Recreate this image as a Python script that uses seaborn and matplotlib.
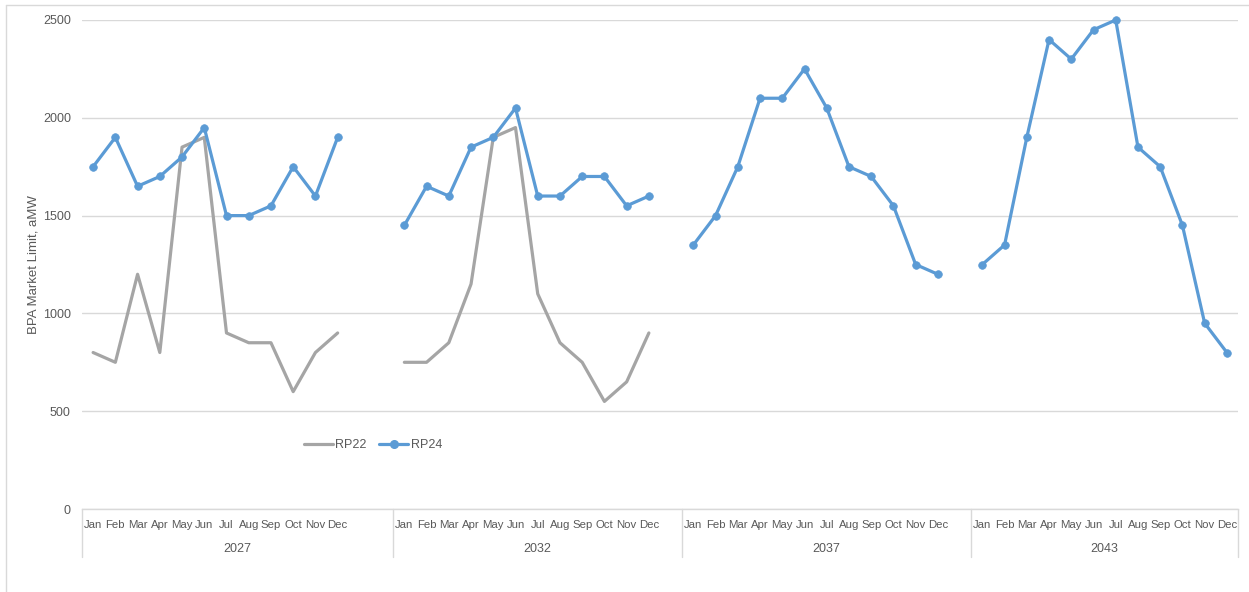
import numpy as np
import pandas as pd
import matplotlib
matplotlib.use("Agg")
import matplotlib.pyplot as plt
import matplotlib.transforms as mtransforms
from matplotlib.lines import Line2D
import seaborn as sns

# ---------------- data ----------------
months = ["Jan", "Feb", "Mar", "Apr", "May", "Jun",
          "Jul", "Aug", "Sep", "Oct", "Nov", "Dec"]
years = ["2027", "2032", "2037", "2043"]

rp22_2027 = [800, 750, 1200, 800, 1850, 1900, 900, 850, 850, 600, 800, 900]
rp22_2032 = [750, 750, 850, 1150, 1900, 1950, 1100, 850, 750, 550, 650, 900]

rp24_2027 = [1750, 1900, 1650, 1700, 1800, 1950, 1500, 1500, 1550, 1750, 1600, 1900]
rp24_2032 = [1450, 1650, 1600, 1850, 1900, 2050, 1600, 1600, 1700, 1700, 1550, 1600]
rp24_2037 = [1350, 1500, 1750, 2100, 2100, 2250, 2050, 1750, 1700, 1550, 1250, 1200]
rp24_2043 = [1250, 1350, 1900, 2400, 2300, 2450, 2500, 1850, 1750, 1450, 950, 800]

yticks = [0, 500, 1000, 1500, 2000, 2500]

series = {
    "RP22": {"2027": rp22_2027, "2032": rp22_2032},
    "RP24": {"2027": rp24_2027, "2032": rp24_2032,
             "2037": rp24_2037, "2043": rp24_2043},
}

# category slots per year block (12 months plus blank categories) - layout
slots = [14, 13, 13, 12]
offsets = np.concatenate([[0], np.cumsum(slots)[:-1]])

rows = []
for s, d in series.items():
    for y, vals in d.items():
        off = offsets[years.index(y)]
        for i, v in enumerate(vals):
            rows.append({"series": s, "year": y, "month": months[i],
                         "pos": off + i, "value": v})
df = pd.DataFrame(rows)

# ---------------- style ----------------
sns.set_theme(style="white")
plt.rcParams["font.family"] = ["Liberation Sans", "DejaVu Sans"]
TXT = "#595959"
GRID = "#D9D9D9"
GRAY = "#A5A5A5"
BLUE = "#5B9BD5"

W, H = 1249, 592
PW = 1156
fig = plt.figure(figsize=(W / 100, H / 100), dpi=100)
fig.patch.set_facecolor("white")
ax = fig.add_axes([82 / W, (H - 509) / H, PW / W, 489 / H])

sns.lineplot(data=df[df["series"] == "RP22"], x="pos", y="value", units="year",
             estimator=None, color=GRAY, lw=2.3, ax=ax, legend=False, zorder=2,
             clip_on=False)
sns.lineplot(data=df[df["series"] == "RP24"], x="pos", y="value", units="year",
             estimator=None, color=BLUE, lw=2.3, marker="o", markersize=5.5,
             markeredgecolor=BLUE, markeredgewidth=0.5, ax=ax, legend=False, zorder=3,
             clip_on=False)

ax.set_xlim(-0.5, sum(slots) - 0.5)
ax.set_ylim(0, 2500)

# y axis
ax.set_yticks(yticks)
ax.set_yticklabels([str(t) for t in yticks])
ax.yaxis.grid(True, color=GRID, lw=1)
ax.set_axisbelow(True)
ax.tick_params(axis="y", length=0, pad=8, labelsize=9, colors=TXT)
ax.set_ylabel("BPA Market Limit, aMW", fontsize=9.5, color=TXT)
ax.yaxis.set_label_coords((40 - 82) / PW, 0.5)

# x axis: month labels
xpos = [off + i for off in offsets for i in range(12)]
ax.set_xticks(xpos)
ax.set_xticklabels(months * len(years))
ax.tick_params(axis="x", length=0, pad=8, labelsize=8.2, colors=TXT)
ax.set_xlabel("")

for sp in ["top", "right", "left"]:
    ax.spines[sp].set_visible(False)
ax.spines["bottom"].set_color(GRID)
ax.spines["bottom"].set_linewidth(1)

trans = mtransforms.blended_transform_factory(ax.transData, ax.transAxes)
bounds = [-0.5] + list(np.cumsum(slots) - 0.5)
for b in bounds:
    ax.plot([b, b], [0, -(557 - 509) / 489], transform=trans, color=GRID,
            lw=1, clip_on=False)
for k, y in enumerate(years):
    c = (bounds[k] + bounds[k + 1]) / 2
    ax.text(c, -(549 - 509) / 489, y, transform=trans, ha="center", va="center",
            fontsize=9, color=TXT)

# legend
handles = [Line2D([], [], color=GRAY, lw=2.3, label="RP22"),
           Line2D([], [], color=BLUE, lw=2.3, marker="o", markersize=5.5,
                  markeredgecolor=BLUE, label="RP24")]
ax.legend(handles=handles, loc="center", bbox_to_anchor=((373 - 82) / PW, (509 - 445) / 489),
          ncol=2, frameon=False, fontsize=9, handlelength=2.3, handletextpad=0.2,
          columnspacing=1.0, labelcolor=TXT)

# outer chart frame
fig.add_artist(Line2D([6 / W, 6 / W], [0, 1 - 5 / H], transform=fig.transFigure,
                      color=GRID, lw=1))
fig.add_artist(Line2D([6 / W, 1], [1 - 5 / H, 1 - 5 / H], transform=fig.transFigure,
                      color=GRID, lw=1))

fig.savefig("out.png", dpi=100, facecolor="white")
